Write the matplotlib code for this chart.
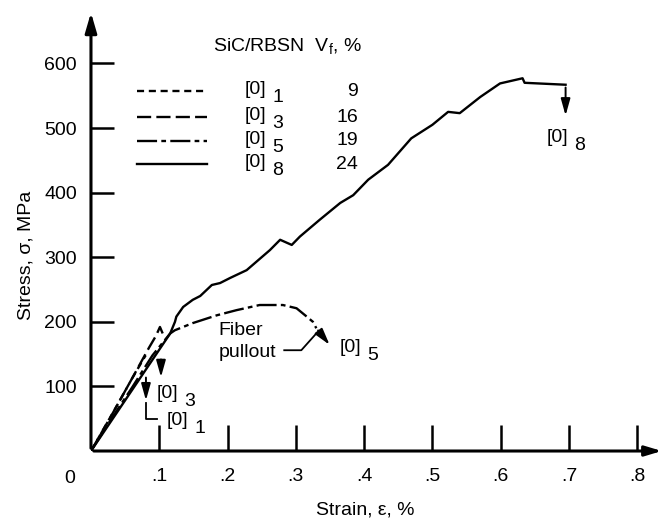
import matplotlib
matplotlib.use("Agg")
import matplotlib.pyplot as plt

plt.rcParams['font.family'] = ['Liberation Sans', 'DejaVu Sans']
plt.rcParams['mathtext.fontset'] = 'custom'
plt.rcParams['mathtext.rm'] = 'Liberation Sans'

# stress-strain curves (strain in %, stress in MPa)
strain_01 = [0, 0.02, 0.04, 0.06, 0.08]
stress_01 = [0, 37, 74, 112, 148]

strain_03 = [0, 0.03, 0.06, 0.085, 0.095, 0.101, 0.105]
stress_03 = [0, 55, 112, 160, 178, 192, 182]

strain_05 = [0, 0.03, 0.06, 0.09, 0.116, 0.123, 0.149, 0.184, 0.213, 0.247,
             0.281, 0.301, 0.316, 0.325, 0.330]
stress_05 = [0, 50, 98, 148, 182, 187, 198, 210, 218, 226,
             226, 221, 208, 200, 190]

strain_08 = [0, 0.116, 0.123, 0.125, 0.135, 0.149, 0.160, 0.177, 0.189, 0.204,
             0.228, 0.262, 0.277, 0.294, 0.306, 0.335, 0.365, 0.384, 0.406, 0.435,
             0.469, 0.500, 0.523, 0.540, 0.570, 0.599, 0.632, 0.635, 0.695]
stress_08 = [0, 182, 200, 208, 223, 234, 240, 257, 260, 268,
             280, 311, 327, 319, 332, 358, 384, 396, 420, 443,
             484, 505, 525, 523, 548, 569, 577, 570, 567]

layups = ['1', '3', '5', '8']
vf = ['9', '16', '19', '24']
x_ticks = [0.1, 0.2, 0.3, 0.4, 0.5, 0.6, 0.7, 0.8]
x_ticklabels = ['.1', '.2', '.3', '.4', '.5', '.6', '.7', '.8']
y_ticks = [100, 200, 300, 400, 500, 600]

fs = 14
lw = 1.7
styles = [(0, (3.0, 2.0)), (0, (6.0, 2.2)), (0, (8.5, 1.8, 2, 1.8)), '-']

fig = plt.figure(figsize=(6.67, 5.24), dpi=100)
ax = fig.add_axes([0.1364, 0.1393, 0.860, 0.842])
ax.set_xlim(0, 0.84)
ax.set_ylim(0, 683)

ax.plot(strain_01, stress_01, color='black', lw=lw, linestyle=styles[0])
ax.plot(strain_03, stress_03, color='black', lw=lw, linestyle=styles[1])
ax.plot(strain_05, stress_05, color='black', lw=lw, linestyle=styles[2])
ax.plot(strain_08, stress_08, color='black', lw=lw, linestyle=styles[3])

# axes with arrow heads
for s in ax.spines.values():
    s.set_visible(False)
ax.annotate('', xy=(0, 1.0), xycoords='axes fraction', xytext=(0, 0),
            arrowprops=dict(arrowstyle='-|>,head_width=0.35,head_length=1.2', lw=2.2, color='black'))
ax.annotate('', xy=(1.0, 0), xycoords='axes fraction', xytext=(0, 0),
            arrowprops=dict(arrowstyle='-|>,head_width=0.3,head_length=1.0', lw=2.2, color='black'))

ax.set_xticks(x_ticks)
ax.set_xticklabels(x_ticklabels)
ax.set_yticks(y_ticks)
ax.tick_params(axis='x', direction='in', length=19, width=1.8, pad=12, labelsize=fs)
ax.tick_params(axis='y', direction='in', length=16.5, width=1.8, pad=10, labelsize=fs)
ax.text(-0.031, -42, '0', ha='center', va='center', fontsize=fs)

ax.set_xlabel('Strain, ε, %', fontsize=fs)
ax.xaxis.set_label_coords(0.478, -0.114)
ax.set_ylabel('Stress, σ, MPa', fontsize=fs)
ax.yaxis.set_label_coords(-0.098, 0.444)

# end-of-curve arrows
head = dict(arrowstyle='-|>,head_width=0.28,head_length=1.0', lw=1.4, color='black')
ax.annotate('', xy=(0.695, 515), xytext=(0.695, 567), arrowprops=head)
ax.annotate('', xy=(0.352, 161), xytext=(0.330, 190), arrowprops=head)
ax.annotate('', xy=(0.1025, 110), xytext=(0.1025, 146), arrowprops=head)
ax.annotate('', xy=(0.0805, 74), xytext=(0.0805, 118), arrowprops=head)
ax.plot([0.0805, 0.0805, 0.097], [74, 49, 49], color='black', lw=1.3)

def layup_label(x, y, sub, dx=0.040, dy=-13):
    ax.text(x, y, '[0]', ha='left', va='center', fontsize=fs)
    ax.text(x + dx, y + dy, sub, ha='left', va='center', fontsize=fs)

layup_label(0.667, 486, '8')
layup_label(0.3646, 161, '5')
layup_label(0.096, 89, '3', dy=-12)
layup_label(0.111, 47, '1', dy=-12)

# fiber pullout note
ax.text(0.187, 187, 'Fiber', ha='left', va='center', fontsize=fs)
ax.text(0.187, 153, 'pullout', ha='left', va='center', fontsize=fs)
ax.plot([0.283, 0.308, 0.330], [156, 156, 182], color='black', lw=1.3)

# legend block
ax.text(0.179, 625, r'SiC/RBSN  V$_\mathrm{f}$, %', ha='left', va='center', fontsize=fs)
leg_y = [557, 517, 480, 444]
for i in range(4):
    ax.plot([0.067, 0.170], [leg_y[i], leg_y[i]], color='black', lw=lw, linestyle=styles[i])
    layup_label(0.2255, leg_y[i] + 2, layups[i], dy=-12)
    ax.text(0.391, leg_y[i], vf[i], ha='right', va='center', fontsize=fs)

fig.savefig('out.png', dpi=100)
